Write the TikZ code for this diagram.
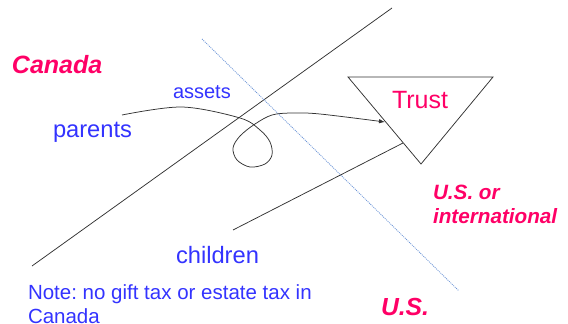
\documentclass[tikz,border=0pt]{standalone}
\usepackage{fontspec}
\setmainfont{Liberation Sans}
\usetikzlibrary{arrows.meta}
\definecolor{txtblue}{RGB}{51,51,255}
\definecolor{txtpink}{RGB}{255,0,102}
\definecolor{dotblue}{RGB}{110,150,215}
\definecolor{linegray}{RGB}{50,50,50}
\frenchspacing
\begin{document}
\begin{tikzpicture}[x=1pt,y=-1pt,
  lbl/.style={inner sep=0pt,outer sep=0pt,anchor=base west},
  bluetxt/.style={lbl,text=txtblue},
  pinktxt/.style={lbl,text=txtpink},
  thinline/.style={draw=linegray,line width=0.75pt},
  dotline/.style={draw=dotblue,line width=0.8pt,dash pattern=on 1pt off 1pt},
  arr/.style={-{Latex[length=6pt,width=4.5pt]}}]
\useasboundingbox (0,0) rectangle (568,324);
% border lines
\coordinate (sa) at (32,266);
\coordinate (sb) at (392,8);
\draw[thinline] (sa) -- (sb);
\coordinate (da) at (202,39);
\coordinate (db) at (459,291);
\draw[dotline] (da) -- (db);
% triangle
\coordinate (t1) at (348,77);
\coordinate (t2) at (493,77);
\coordinate (t3) at (421,164);
\draw[thinline,line join=miter] (t1) -- (t2) -- (t3) -- cycle;
\node[pinktxt,font=\fontsize{25}{30}\selectfont] (trust) at (392,108) {Trust};
% labels
\node[pinktxt,font=\fontsize{25}{30}\selectfont\bfseries\itshape] (canada) at (12,73) {Canada};
\node[bluetxt,font=\fontsize{20}{24}\selectfont] (assets) at (173,98) {assets};
\node[bluetxt,font=\fontsize{23.7}{28}\selectfont] (parents) at (53,137) {parents};
\node[bluetxt,font=\fontsize{23.7}{28}\selectfont] (children) at (176,263) {children};
\node[pinktxt,font=\fontsize{20.7}{24}\selectfont\bfseries\itshape,align=left] (usint) at (433,223) {U.S. or\\international};
\node[pinktxt,font=\fontsize{24.7}{30}\selectfont\bfseries\itshape] (us) at (381,315) {U.S.};
\node[bluetxt,font=\fontsize{20.5}{24}\selectfont,align=left] (note) at (28,323) {Note: no gift tax or estate tax in\\Canada};
% connectors
\coordinate (pstart) at (122,115);
\coordinate (parr) at (385,122);
\draw[thinline,arr] plot[smooth,tension=0.55] coordinates {(pstart) (182,107) (240,118) (260,130) (270,142) (272,155) (265,164) (250,167) (237,160) (233,148) (240,136) (255,124) (272,115) (292,113) (320,114) (parr)};
\coordinate (cstart) at (233,230);
\coordinate (cend) at (403,143);
\draw[thinline] (cstart) -- (cend);
\end{tikzpicture}
\end{document}
